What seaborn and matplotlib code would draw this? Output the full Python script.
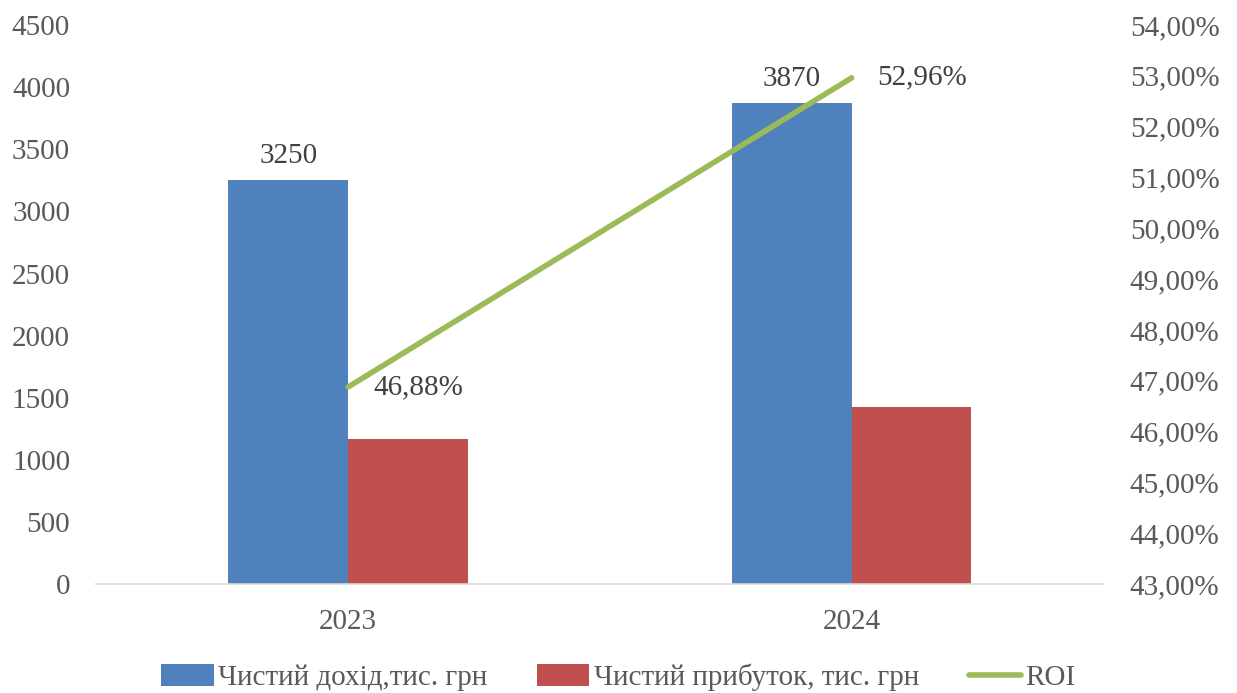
import matplotlib
matplotlib.use("Agg")
import matplotlib.pyplot as plt
import matplotlib.ticker as mticker
from matplotlib.patches import Patch
from matplotlib.lines import Line2D
import seaborn as sns
import pandas as pd

years = ["2023", "2024"]
revenue = [3250, 3870]          # Чистий дохід, тис. грн
profit = [1165, 1425]           # Чистий прибуток, тис. грн
roi = [46.88, 52.96]            # ROI, %
series_names = ["Чистий дохід,тис. грн", "Чистий прибуток, тис. грн", "ROI"]

sns.set_theme(style="white")
plt.rcParams["font.family"] = ["Liberation Serif", "DejaVu Serif"]

TEXT = "#595959"
BLUE = "#4F81BD"
RED = "#C0504D"
GREEN = "#9BBB59"
FS = 21

df = pd.DataFrame({
    "year": years * 2,
    "value": revenue + profit,
    "series": [series_names[0]] * 2 + [series_names[1]] * 2,
})

fig = plt.figure(figsize=(12.37, 6.93), dpi=100)
ax = fig.add_axes([0.078, 0.157, 0.814, 0.807])

sns.barplot(data=df, x="year", y="value", hue="series", order=years,
            hue_order=series_names[:2], palette=[BLUE, RED], width=0.476,
            saturation=1, legend=False, linewidth=0, ax=ax)
ax.set_xlim(-0.5, 1.5)
ax.set_ylim(0, 4500)
ax.yaxis.set_major_locator(mticker.MultipleLocator(500))
ax.set_xlabel("")
ax.set_ylabel("")
for s in ["top", "left", "right"]:
    ax.spines[s].set_visible(False)
ax.spines["bottom"].set_color("#d9d9d9")
ax.spines["bottom"].set_linewidth(1.2)
ax.tick_params(axis="both", length=0, labelsize=FS, colors=TEXT)
ax.tick_params(axis="x", pad=18)
ax.tick_params(axis="y", pad=19)

# labels for net income bars
bw = 0.476 / 2
for i, v in enumerate(revenue):
    ax.text(i - bw / 2, v + 90, f"{v}", ha="center", va="bottom",
            fontsize=FS, color="#404040")

ax2 = ax.twinx()
sns.lineplot(x=[0, 1], y=roi, color=GREEN, linewidth=4, ax=ax2)
ax2.set_ylim(43, 54)
ax2.set_xlim(-0.5, 1.5)
ax2.yaxis.set_major_locator(mticker.MultipleLocator(1))
ax2.yaxis.set_major_formatter(
    mticker.FuncFormatter(lambda v, p: f"{v:.2f}%".replace(".", ",")))
for s in ["top", "left", "right", "bottom"]:
    ax2.spines[s].set_visible(False)
ax2.tick_params(axis="y", length=0, labelsize=FS, colors=TEXT, pad=19)
for i, v in enumerate(roi):
    ax2.text(i + 0.05, v, f"{v:.2f}%".replace(".", ","), ha="left",
             va="center", fontsize=FS, color="#404040")

handles = [
    Patch(facecolor=BLUE, edgecolor="none"),
    Patch(facecolor=RED, edgecolor="none"),
    Line2D([0], [0], color=GREEN, linewidth=4),
]
fig.legend(handles, series_names, loc="lower center", ncol=3,
           bbox_to_anchor=(0.5, -0.035), frameon=False, fontsize=FS,
           labelcolor=TEXT, handlelength=1.8, handleheight=0.75,
           handletextpad=0.15, columnspacing=1.7)

fig.savefig("out.png", dpi=100)
